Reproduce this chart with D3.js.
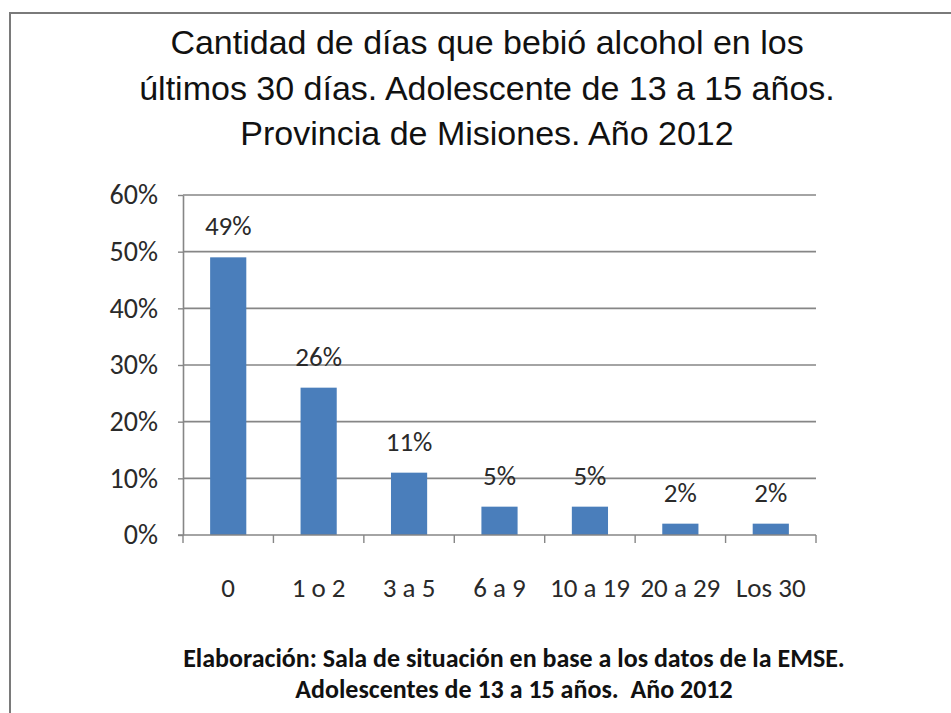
<!DOCTYPE html>
<html>
<head>
<meta charset="utf-8">
<script src="https://cdn.jsdelivr.net/npm/d3@7"></script>
<style>
  body { margin: 0; background: #fff; }
  svg { display: block; }
</style>
</head>
<body>
<svg id="chart"></svg>
<script>
// chart data
const categories = ["0", "1 o 2", "3 a 5", "6 a 9", "10 a 19", "20 a 29", "Los 30"];
const values = [49, 26, 11, 5, 5, 2, 2];
const yTicks = [0, 10, 20, 30, 40, 50, 60];
const titleLines = [
  "Cantidad de días que bebió alcohol en los",
  "últimos 30 días. Adolescente de 13 a 15 años.",
  "Provincia de Misiones. Año 2012"
];
const footerLines = [
  "Elaboración: Sala de situación en base a los datos de la EMSE.",
  "Adolescentes de 13 a 15 años.  Año 2012"
];

const width = 951, height = 713;
const plot = { left: 183, right: 816, top: 195, bottom: 535 };
const gray = "#868686";
const fontBody = "Carlito, Calibri, Liberation Sans Narrow, Open Sans, sans-serif";

const svg = d3.select("#chart").attr("width", width).attr("height", height);

/* frame */
svg.append("path")
  .attr("d", `M10,${height} V13 H${width}`)
  .attr("fill", "none")
  .attr("stroke", "#7a7a7a")
  .attr("stroke-width", 2);

/* title */
svg.append("g").selectAll("text")
  .data(titleLines)
  .enter()
  .append("text")
  .attr("x", 487)
  .attr("y", (d, i) => 54 + i * 45.5)
  .attr("text-anchor", "middle")
  .attr("font-family", "Liberation Sans, Arial, sans-serif")
  .attr("font-size", 34)
  .attr("fill", "#111")
  .text(d => d);

/* scales */
const x = d3.scaleBand()
  .domain(categories)
  .range([plot.left, plot.right])
  .paddingInner(0.6)
  .paddingOuter(0.3);

const xTickScale = d3.scaleBand().domain(categories).range([plot.left, plot.right]);

const y = d3.scaleLinear().domain([0, 60]).range([plot.bottom, plot.top]);

/* gridlines */
svg.append("g")
  .selectAll("line")
  .data(yTicks.filter(d => d > 0))
  .enter()
  .append("line")
  .attr("x1", plot.left)
  .attr("x2", plot.right)
  .attr("y1", d => y(d))
  .attr("y2", d => y(d))
  .attr("stroke", gray)
  .attr("stroke-width", 1.6);

/* y axis */
const yAxis = svg.append("g")
  .attr("transform", `translate(${plot.left},0)`)
  .call(d3.axisLeft(y).tickValues(yTicks).tickFormat(d => d + "%").tickSize(5).tickSizeOuter(0).tickPadding(20));
yAxis.select(".domain").attr("stroke", gray).attr("stroke-width", 1.6);
yAxis.selectAll(".tick line").attr("stroke", gray).attr("stroke-width", 1.4);
yAxis.selectAll("text")
  .attr("font-family", fontBody)
  .attr("font-size", 28)
  .attr("fill", "#2a2a2a");

/* bars */
svg.append("g")
  .selectAll("rect")
  .data(values)
  .enter()
  .append("rect")
  .attr("x", (d, i) => x(categories[i]))
  .attr("y", d => y(d))
  .attr("width", x.bandwidth())
  .attr("height", d => y(0) - y(d))
  .attr("fill", "#4a7ebb");

/* value labels */
svg.append("g")
  .selectAll("text")
  .data(values)
  .enter()
  .append("text")
  .attr("x", (d, i) => x(categories[i]) + x.bandwidth() / 2)
  .attr("y", d => y(d) - 22)
  .attr("text-anchor", "middle")
  .attr("font-family", fontBody)
  .attr("font-size", 27)
  .attr("fill", "#2a2a2a")
  .text(d => d + "%");

/* x axis */
const xAxisG = svg.append("g")
  .attr("transform", `translate(0,${plot.bottom})`);
xAxisG.append("line")
  .attr("x1", plot.left - 5)
  .attr("x2", plot.right)
  .attr("y1", 0).attr("y2", 0)
  .attr("stroke", gray)
  .attr("stroke-width", 1.6);
xAxisG.selectAll(".tk")
  .data(categories.concat(["end"]))
  .enter()
  .append("line")
  .attr("x1", (d, i) => i < categories.length ? xTickScale(d) : plot.right)
  .attr("x2", (d, i) => i < categories.length ? xTickScale(d) : plot.right)
  .attr("y1", 0).attr("y2", 8)
  .attr("stroke", gray)
  .attr("stroke-width", 1.4);
xAxisG.selectAll("text")
  .data(categories)
  .enter()
  .append("text")
  .attr("x", d => xTickScale(d) + xTickScale.bandwidth() / 2)
  .attr("y", 62)
  .attr("text-anchor", "middle")
  .attr("font-family", fontBody)
  .attr("font-size", 27)
  .attr("fill", "#2a2a2a")
  .text(d => d);

/* footer */
svg.append("g").selectAll("text")
  .data(footerLines)
  .enter()
  .append("text")
  .attr("x", 514)
  .attr("y", (d, i) => 667 + i * 31)
  .attr("text-anchor", "middle")
  .attr("font-family", fontBody)
  .attr("font-weight", "bold")
  .attr("font-size", 26)
  .attr("fill", "#111")
  .style("white-space", "pre")
  .text(d => d);
</script>
</body>
</html>
